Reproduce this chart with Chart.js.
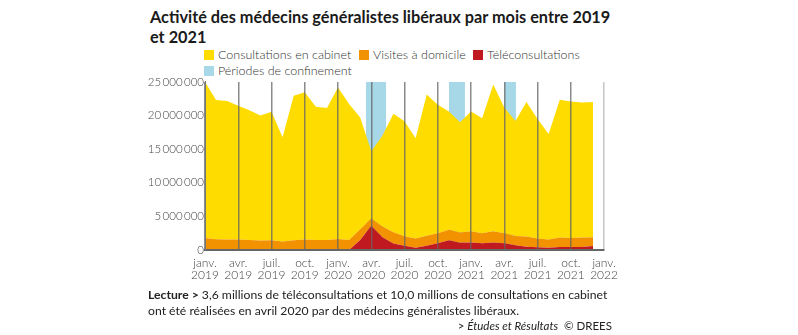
<!DOCTYPE html>
<html lang="fr">
<head>
<meta charset="utf-8">
<script src="https://cdn.jsdelivr.net/npm/chart.js@4.4.1/dist/chart.umd.min.js"></script>
<style>
  body { margin: 0; background: #fff; font-family: Lato, "Open Sans", sans-serif; color: #222; }
  #page { position: relative; width: 798px; height: 335px; overflow: hidden; }
  #title { position: absolute; left: 150px; top: 7px; font-size: 16.3px; font-weight: 700; line-height: 20px; color: #1a1a1a; }
  #legend { position: absolute; left: 204px; top: 47px; width: 420px; font-size: 12.5px; font-weight: 300; color: #333; }
  #legend span.item { display: inline-block; line-height: 16px; white-space: nowrap; }
  #legend span.box { display: inline-block; width: 10px; height: 10px; margin-right: 4px; vertical-align: -1px; }
  #wrap { position: absolute; left: 145px; top: 74px; width: 480px; height: 220px; }
  #note { position: absolute; left: 148px; top: 287px; font-size: 12.2px; line-height: 15.5px; color: #222; }
  #source { position: absolute; right: 186px; top: 319px; font-size: 11.5px; color: #222; }
</style>
</head>
<body>
<div id="page">
  <div id="title">Activité des médecins généralistes libéraux par mois entre 2019<br>et 2021</div>
  <div id="legend"></div>
  <div id="wrap"><canvas id="chart"></canvas></div>
  <div id="note"><b>Lecture &gt;</b> 3,6 millions de téléconsultations et 10,0 millions de consultations en cabinet<br>ont été réalisées en avril 2020 par des médecins généralistes libéraux.</div>
  <div id="source">&gt; <i>Études et Résultats</i>&nbsp; © DREES</div>
</div>
<script>
// monthly values in millions, janv. 2019 -> déc. 2021
const cabinet = [23.2, 20.7, 20.6, 19.9, 19.3, 18.6, 19.1, 15.5, 21.5, 21.9, 19.8, 19.6,
                 22.5, 20.2, 16.6, 10.0, 13.5, 17.6, 17.1, 14.9, 21.0, 19.1, 17.6, 16.4,
                 17.8, 17.1, 21.8, 18.7, 17.1, 20.0, 17.8, 15.7, 20.5, 20.3, 20.1, 20.1];
const visites = [1.8, 1.6, 1.55, 1.55, 1.5, 1.4, 1.45, 1.25, 1.45, 1.55, 1.5, 1.5,
                 1.65, 1.5, 1.6, 1.1, 1.6, 1.7, 1.4, 1.4, 1.5, 1.5, 1.55, 1.55,
                 1.7, 1.5, 1.7, 1.5, 1.4, 1.5, 1.3, 1.2, 1.4, 1.35, 1.4, 1.3];
const teleconsultations = [0, 0, 0, 0, 0, 0, 0, 0, 0, 0, 0, 0,
                 0, 0, 1.5, 3.6, 1.9, 0.95, 0.63, 0.32, 0.63, 1.0, 1.46, 1.06,
                 1.1, 1.0, 1.1, 1.0, 0.7, 0.5, 0.4, 0.35, 0.45, 0.45, 0.45, 0.6];

// lockdown periods, in months since janv. 2019
const confinementStart = [14.5, 22.0, 27.0];
const confinementEnd = [16.35, 23.45, 28.05];

const tickMonths = ['janv.', 'avr.', 'juil.', 'oct.'];
const firstYear = 2019;
const yTicks = [0, 5000000, 10000000, 15000000, 20000000, 25000000];

const colors = {
  cabinet: '#FFDC00',
  visites: '#F39200',
  tele: '#C0191F',
  conf: '#A6D8E7'
};

const toPoints = arr => arr.map((v, i) => ({ x: i, y: v * 1e6 }));

const datasets = [
  { label: 'Téléconsultations', data: toPoints(teleconsultations), backgroundColor: colors.tele, fill: 'origin', stack: 'activite' },
  { label: 'Visites à domicile', data: toPoints(visites), backgroundColor: colors.visites, fill: '-1', stack: 'activite' },
  { label: 'Consultations en cabinet', data: toPoints(cabinet), backgroundColor: colors.cabinet, fill: '-1', stack: 'activite' }
];
confinementStart.forEach((s, k) => {
  datasets.push({
    label: 'Périodes de confinement',
    data: [{ x: s, y: 25e6 }, { x: confinementEnd[k], y: 25e6 }],
    backgroundColor: colors.conf,
    fill: 'origin',
    stack: 'conf' + k
  });
});
datasets.forEach(d => { d.borderWidth = 0; d.pointRadius = 0; d.tension = 0; });

const fmt = n => n === 0 ? '0' : String(n).replace(/\B(?=(\d{3})+(?!\d))/g, '\u2009');

const ctx = document.getElementById('chart');
new Chart(ctx, {
  type: 'line',
  data: { datasets: datasets },
  options: {
    responsive: true,
    maintainAspectRatio: false,
    animation: false,
    layout: { padding: { top: 0, right: 20, left: 0, bottom: 12 } },
    plugins: {
      legend: { display: false },
      tooltip: { enabled: false }
    },
    scales: {
      x: {
        type: 'linear',
        min: 0,
        max: 36,
        afterFit: s => { s.height = 32; },
        afterBuildTicks: s => { s.ticks = Array.from({ length: 13 }, (_, i) => ({ value: i * 3 })); },
        ticks: {
          autoSkip: false,
          maxRotation: 0,
          padding: 7,
          color: '#444',
          font: { family: 'Lato', size: 12, weight: '300', lineHeight: 1.0 },
          callback: v => [tickMonths[(v / 3) % 4], String(firstYear + Math.floor(v / 12))]
        },
        grid: {
          z: 1,
          drawTicks: false,
          lineWidth: 1.5,
          color: c => c.tick && c.tick.value === 36 ? '#c6c6c6' : 'rgba(100,100,100,0.75)'
        },
        border: { display: true, z: 2, color: '#666', width: 2 }
      },
      y: {
        stacked: true,
        min: 0,
        max: 25000000,
        afterFit: s => { s.width = 60; },
        afterBuildTicks: s => { s.ticks = yTicks.map(v => ({ value: v })); },
        ticks: {
          padding: 1,
          color: '#444',
          font: { family: 'Lato', size: 11.5, weight: '300' },
          callback: v => fmt(v)
        },
        grid: { display: false, drawTicks: false },
        border: { display: true, z: 2, color: '#777', width: 1 }
      }
    }
  }
});

// legend in the chart's own order
const legendOrder = ['Consultations en cabinet', 'Visites à domicile', 'Téléconsultations', 'Périodes de confinement'];
const legendColors = [colors.cabinet, colors.visites, colors.tele, colors.conf];
const legendWidths = ['155px', '114px', 'auto', 'auto'];
const legend = document.getElementById('legend');
legendOrder.forEach((name, i) => {
  const item = document.createElement('span');
  item.className = 'item';
  item.style.width = legendWidths[i];
  item.innerHTML = '<span class="box" style="background:' + legendColors[i] + '"></span>' + name;
  legend.appendChild(item);
  if (i === 2) legend.appendChild(document.createElement('br'));
});
</script>
</body>
</html>
